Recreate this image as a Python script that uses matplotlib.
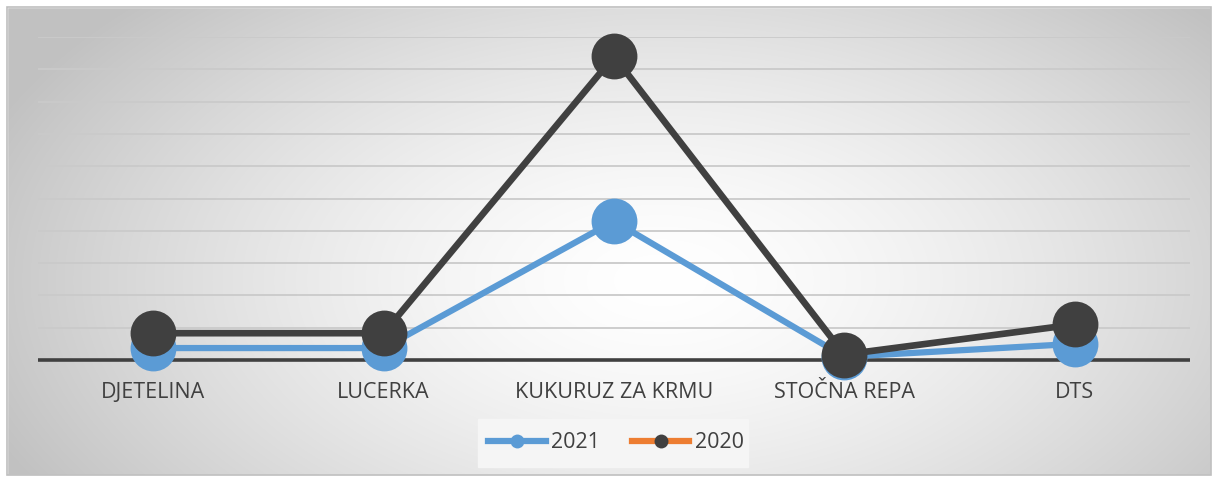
import numpy as np
import matplotlib
matplotlib.use("Agg")
import matplotlib.pyplot as plt
from matplotlib.lines import Line2D
from matplotlib.patches import Rectangle

categories = ["DJETELINA", "LUCERKA", "KUKURUZ ZA KRMU", "STOČNA REPA", "DTS"]
values_2021 = [0.37, 0.37, 4.3, 0.1, 0.5]
values_2020 = [0.83, 0.83, 9.4, 0.17, 1.1]
series_names = ["2021", "2020"]

W, H = 1218, 482
fig = plt.figure(figsize=(W / 100, H / 100), dpi=100)

# background gradient
bg = fig.add_axes([0, 0, 1, 1])
yy, xx = np.mgrid[0:H, 0:W]
cx, cy = 660, 280
r = np.sqrt(((xx - cx) / 680.0) ** 2 + ((yy - cy) / 380.0) ** 2)
g = np.clip(1.0 - 0.22 * r ** 1.5, 0.76, 1.0)
img = np.dstack([g, g, g])
bg.imshow(img, extent=[0, W, H, 0], aspect="auto", interpolation="bilinear")
bg.set_xlim(0, W)
bg.set_ylim(H, 0)
bg.axis("off")
# white outer margin and border
for rect in [(0, 0, W, 7), (0, H - 7, W, 7), (0, 0, 7, H), (W - 7, 0, 7, H)]:
    bg.add_patch(Rectangle((rect[0], rect[1]), rect[2], rect[3], color="white", zorder=2))
bg.add_patch(Rectangle((7, 7), W - 14, H - 14, fill=False, edgecolor="#bfbfbf", lw=1.2, zorder=3))
# legend background
bg.add_patch(Rectangle((478, 419), 270, 48, color="#f5f5f5", zorder=2))

ax = fig.add_axes([38 / W, 122 / H, 1152 / W, 323 / H])
ax.patch.set_alpha(0)
x = np.arange(len(categories))
ax.set_xlim(-0.5, len(categories) - 0.5)
ax.set_ylim(0, 10)
for v in range(1, 11):
    ax.axhline(v, color="#cacaca", lw=1.3, zorder=0)
ax.axhline(0, color="#404040", lw=2.6, zorder=1, clip_on=False, solid_capstyle="butt")
for s in ax.spines.values():
    s.set_visible(False)
ax.set_yticks([])
ax.set_xticks(x)
ax.set_xticklabels(categories, fontsize=15.5, color="#404040", family="Open Sans")
ax.tick_params(axis="x", length=0, pad=16)

ax.plot(x, values_2021, color="#5B9BD5", lw=4.5, marker="o", ms=33, markeredgewidth=0, zorder=3, clip_on=False)
ax.plot(x, values_2020, color="#404040", lw=4.8, marker="o", ms=33, markeredgewidth=0, zorder=4, clip_on=False)

handles = [
    Line2D([0], [0], color="#5B9BD5", lw=4.5, marker="o", ms=10, markeredgewidth=0),
    Line2D([0], [0], color="#ED7D31", lw=4.5, marker="o", ms=10, markerfacecolor="#404040", markeredgewidth=0),
]
leg = fig.legend(handles, series_names, loc="center", bbox_to_anchor=(616 / W, 1 - 443 / H),
                 ncol=2, frameon=False, handlelength=2.65, columnspacing=1.5,
                 handletextpad=0.25, prop={"family": "Open Sans", "size": 15.5})
for t in leg.get_texts():
    t.set_color("#404040")

fig.savefig("out.png", dpi=100)
